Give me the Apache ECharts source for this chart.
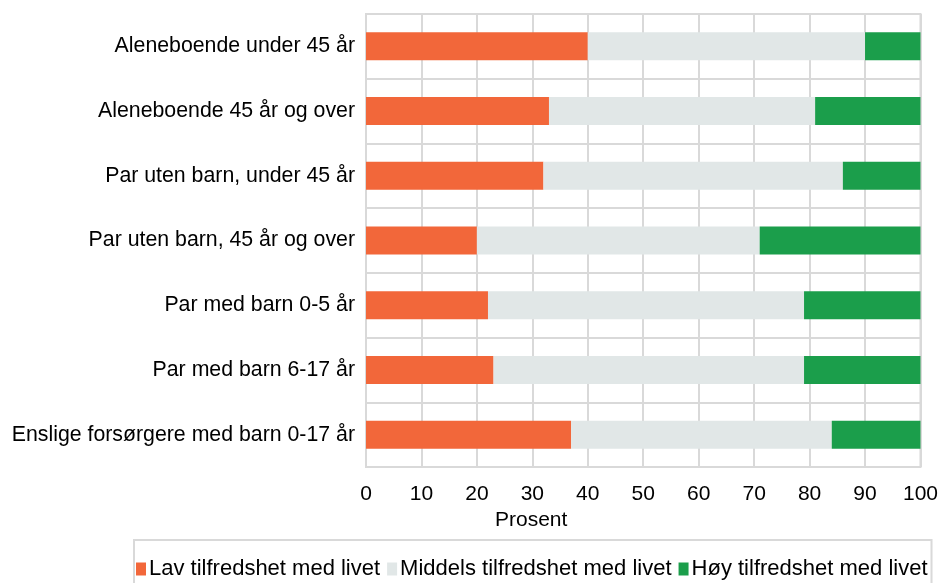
<!DOCTYPE html>
<html><head><meta charset="utf-8">
<script src="https://cdn.jsdelivr.net/npm/echarts@6/dist/echarts.min.js"></script>
<style>html,body{margin:0;padding:0;background:#fff}#c{width:941px;height:583px}</style>
</head><body><div id="c"></div>
<script>
const categories = ["Aleneboende under 45 år","Aleneboende 45 år og over","Par uten barn, under 45 år","Par uten barn, 45 år og over","Par med barn 0-5 år","Par med barn 6-17 år","Enslige forsørgere med barn 0-17 år"];
const seriesNames = ["Lav tilfredshet med livet","Middels tilfredshet med livet","Høy tilfredshet med livet"];
const lav = [40,33,32,20,22,23,37];
const middels = [50,48,54,51,57,56,47];
const hoy = [10,19,14,29,21,21,16];
const xTicks = [0,10,20,30,40,50,60,70,80,90,100];
const axisTitle = "Prosent";

const colors = ['#F2673A','#E1E7E7','#1B9E4B'];
const font = 'Liberation Sans, Arial, sans-serif';
const chart = echarts.init(document.getElementById('c'), null, {renderer:'canvas'});
const data = [lav, middels, hoy];
chart.setOption({
  animation:false,
  color: colors,
  grid:{left:366,right:20,top:14,bottom:116,show:true,borderColor:'#d9d9d9',borderWidth:2},
  xAxis:{type:'value',min:xTicks[0],max:xTicks[xTicks.length-1],interval:10,
    axisLine:{show:false},axisTick:{show:false},
    splitLine:{show:true,lineStyle:{color:'#d9d9d9',width:2}},
    axisLabel:{color:'#000',fontSize:21,fontFamily:font,margin:17}},
  yAxis:{type:'category',data:categories,inverse:true,
    axisLine:{show:false},axisTick:{show:false},
    splitLine:{show:true,lineStyle:{color:'#d9d9d9',width:2}},
    axisLabel:{color:'#000',fontSize:21.3,fontFamily:font,margin:11}},
  legend:{left:134,top:540,orient:'horizontal',itemWidth:10,itemHeight:13,itemGap:7,
    borderColor:'#d9d9d9',borderWidth:2,padding:[18,4,20,2],
    textStyle:{color:'#000',fontSize:22,fontFamily:font,padding:[0,0,0,-2]},
    data:seriesNames.map(n=>({name:n,icon:'rect'}))},
  graphic:[{type:'text',left:495,top:510,style:{text:axisTitle,fontSize:21,fontFamily:font,fill:'#000'}}],
  series: seriesNames.map((n,i)=>({name:n,type:'bar',stack:'t',data:data[i],barWidth:28,clip:false,
    itemStyle:{color:colors[i]}}))
});
</script></body></html>
